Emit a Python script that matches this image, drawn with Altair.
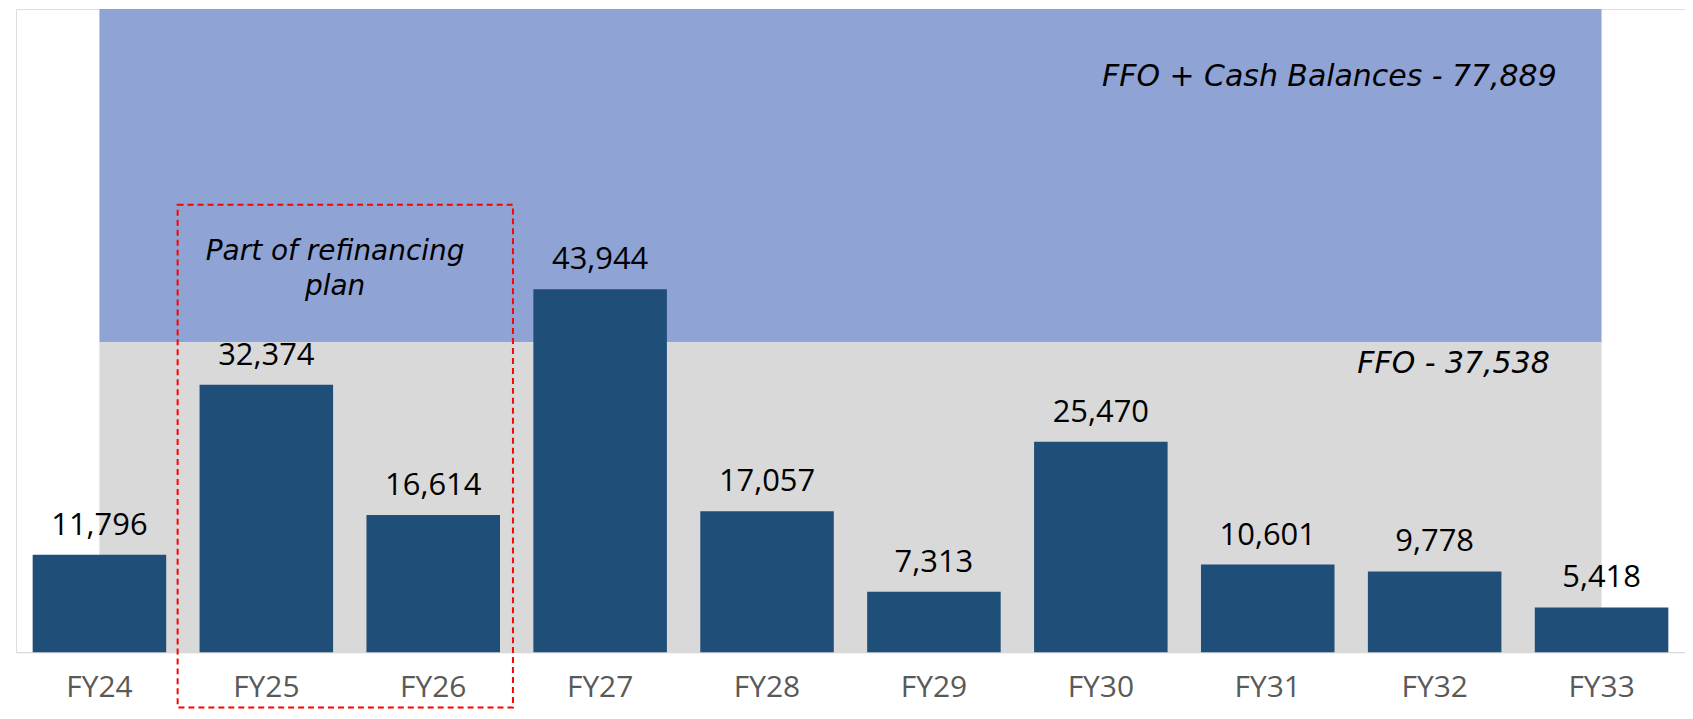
import altair as alt
import pandas as pd

# ---- data ----
years = ["FY24", "FY25", "FY26", "FY27", "FY28", "FY29", "FY30", "FY31", "FY32", "FY33"]
values = [11796, 32374, 16614, 43944, 17057, 7313, 25470, 10601, 9778, 5418]
ffo_total = 37538
ffo_cash_total = 77889
ffo_label = "FFO - 37,538"
ffo_cash_label = "FFO + Cash Balances - 77,889"
refi_years = ["FY25", "FY26"]
refi_text = ["Part of refinancing", "plan"]

# ---- annotation placement (data space) ----
box_top = 54185
box_bottom = -6700
refi_text_y = 47458

bars_df = pd.DataFrame({"year": years, "value": values})
bg_df = pd.DataFrame({
    "year": [years[0], years[-1]],
    "zero": [0, 0],
    "ffo": [ffo_total, ffo_total],
    "total": [ffo_cash_total, ffo_cash_total],
})
box_df = pd.DataFrame({"start": [refi_years[0]], "end": [refi_years[1]],
                       "top": [box_top], "bottom": [box_bottom]})
refi_df = pd.DataFrame({"year": [refi_years[0]], "y": [refi_text_y], "label": [refi_text]})
ffo_df = pd.DataFrame({"year": [years[-1]], "y": [ffo_total], "label": [ffo_label]})
cash_df = pd.DataFrame({"year": [years[-1]], "y": [ffo_cash_total], "label": [ffo_cash_label]})

FONT = "Open Sans"
ANN_FONT = "DejaVu Sans"
xscale = alt.Scale(type="band", paddingInner=0.2, paddingOuter=0.1, domain=years)
yscale = alt.Scale(domain=[0, ffo_cash_total], nice=False, zero=True)

x_axis = alt.Axis(title=None, labelAngle=0, ticks=False, labelFontSize=30,
                  labelColor="#595959", labelFont=FONT, domainColor="#D9D9D9",
                  domainWidth=1.5, labelPadding=21, grid=False)

blue_bg = alt.Chart(bg_df).mark_area(color="#8FA3D4").encode(
    x=alt.X("year:N", scale=xscale, sort=years, axis=x_axis),
    y=alt.Y("total:Q", scale=yscale, axis=None),
    y2="ffo:Q",
)
gray_bg = alt.Chart(bg_df).mark_area(color="#D9D9D9").encode(
    x=alt.X("year:N", scale=xscale, sort=years),
    y=alt.Y("ffo:Q", scale=yscale, axis=None),
    y2="zero:Q",
)
bars = alt.Chart(bars_df).mark_bar(color="#1F4E79").encode(
    x=alt.X("year:N", scale=xscale, sort=years),
    y=alt.Y("value:Q", scale=yscale, axis=None),
)
bar_labels = alt.Chart(bars_df).mark_text(
    font=FONT, fontSize=31, color="#000000", baseline="alphabetic", dy=-20
).encode(
    x=alt.X("year:N", scale=xscale, sort=years),
    y=alt.Y("value:Q", scale=yscale, axis=None),
    text=alt.Text("value:Q", format=","),
)
box = alt.Chart(box_df).mark_rect(
    fillOpacity=0, stroke="#FF0000", strokeWidth=2, strokeDash=[6, 4],
    xOffset=-22, x2Offset=13
).encode(
    x=alt.X("start:N", scale=xscale, sort=years, bandPosition=0),
    x2=alt.X2("end:N", bandPosition=1),
    y=alt.Y("top:Q", scale=yscale, axis=None),
    y2="bottom:Q",
)
refi_label = alt.Chart(refi_df).mark_text(
    font=ANN_FONT, fontSize=28, fontStyle="italic", color="#000000",
    baseline="alphabetic", align="center", lineHeight=35, dx=2
).encode(
    x=alt.X("year:N", scale=xscale, sort=years, bandPosition=1),
    y=alt.Y("y:Q", scale=yscale, axis=None),
    text="label",
)
cash_label = alt.Chart(cash_df).mark_text(
    font=ANN_FONT, fontSize=30, fontStyle="italic", color="#000000",
    baseline="alphabetic", align="right", dx=-45, dy=77
).encode(
    x=alt.X("year:N", scale=xscale, sort=years),
    y=alt.Y("y:Q", scale=yscale, axis=None),
    text="label:N",
)
ffo_text = alt.Chart(ffo_df).mark_text(
    font=ANN_FONT, fontSize=30, fontStyle="italic", color="#000000",
    baseline="alphabetic", align="right", dx=-52, dy=31
).encode(
    x=alt.X("year:N", scale=xscale, sort=years),
    y=alt.Y("y:Q", scale=yscale, axis=None),
    text="label:N",
)

chart = alt.layer(
    blue_bg, gray_bg, bars, bar_labels, box, refi_label, cash_label, ffo_text
).properties(
    width=1674, height=645,
    padding={"left": 8, "top": 0, "right": 0, "bottom": 0},
).configure_view(stroke=None).configure(background="#FFFFFF")

chart.save("out.html", embed_options={"renderer": "svg", "actions": False})
